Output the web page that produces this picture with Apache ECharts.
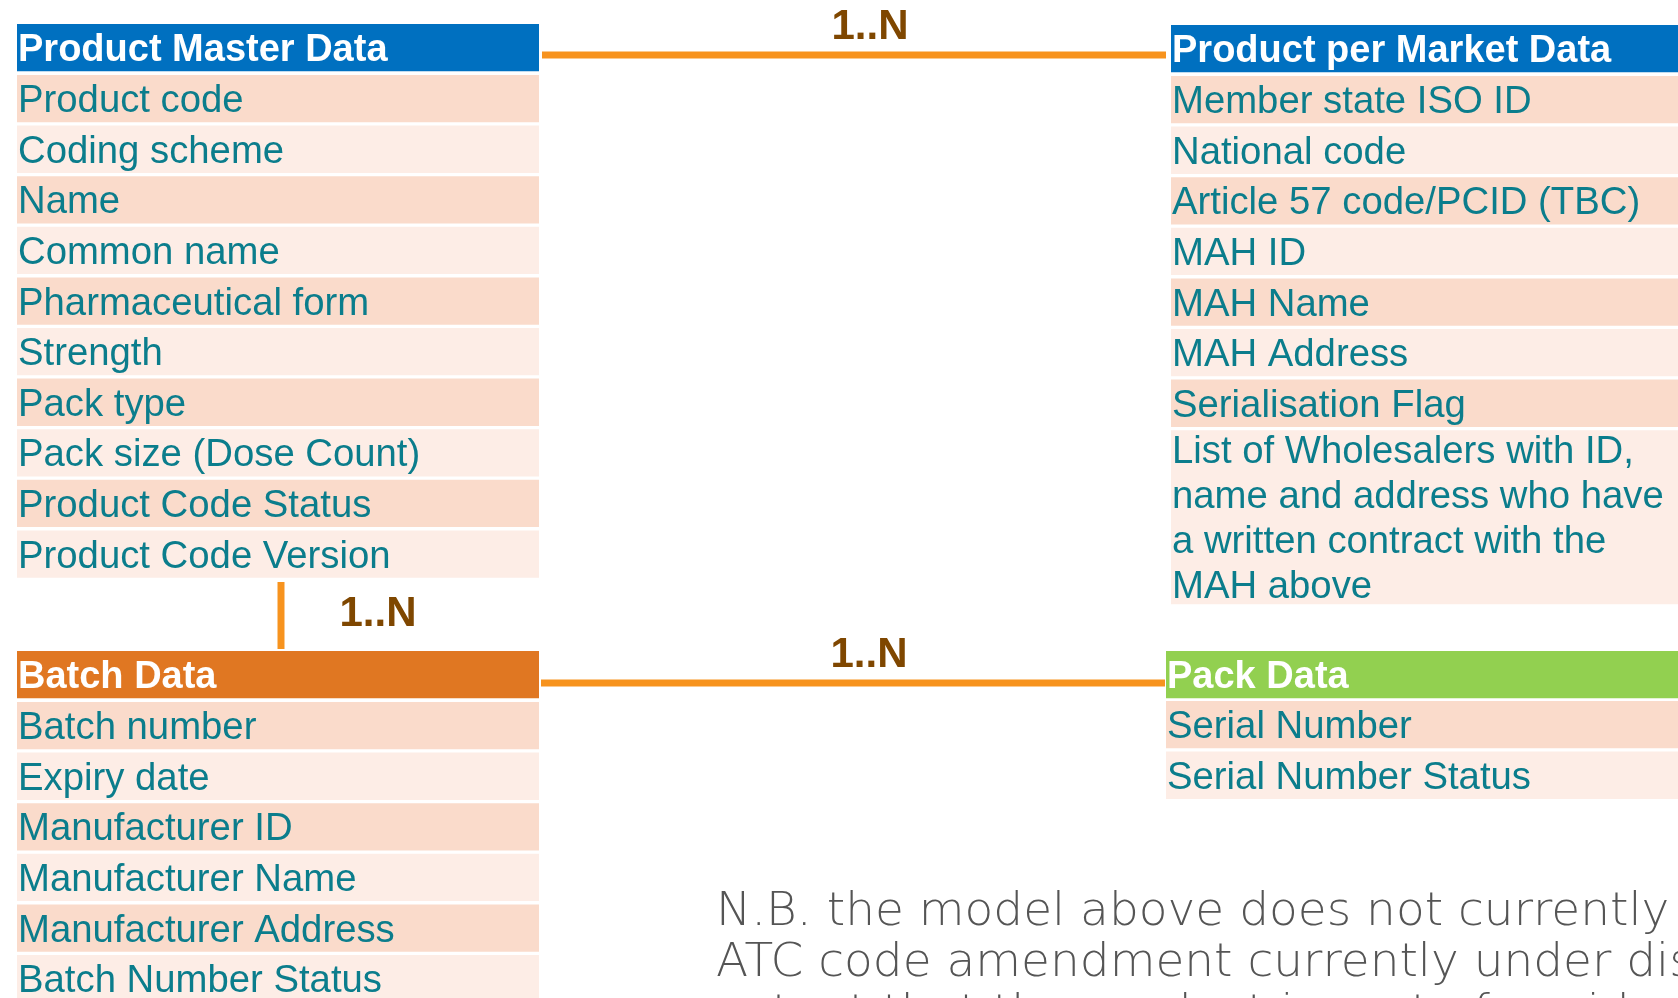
<!DOCTYPE html>
<html>
<head>
<meta charset="utf-8">
<title>Product data model</title>
<script src="https://cdn.jsdelivr.net/npm/echarts@6/dist/echarts.min.js"></script>
<style>
  html, body { margin: 0; padding: 0; background: #fff; }
  #chart { width: 1678px; height: 998px; }
</style>
</head>
<body>
<div id="chart"></div>
<script>
// table contents
var masterTitle = 'Product Master Data';
var masterFields = ['Product code', 'Coding scheme', 'Name', 'Common name', 'Pharmaceutical form',
  'Strength', 'Pack type', 'Pack size (Dose Count)', 'Product Code Status', 'Product Code Version'];

var marketTitle = 'Product per Market Data';
var marketFields = ['Member state ISO ID', 'National code', 'Article 57 code/PCID (TBC)', 'MAH ID',
  'MAH Name', 'MAH Address', 'Serialisation Flag',
  'List of Wholesalers with ID,\nname and address who have\na written contract with the\nMAH above'];

var batchTitle = 'Batch Data';
var batchFields = ['Batch number', 'Expiry date', 'Manufacturer ID', 'Manufacturer Name',
  'Manufacturer Address', 'Batch Number Status'];

var packTitle = 'Pack Data';
var packFields = ['Serial Number', 'Serial Number Status'];

// cardinality labels: master->market, master->batch, batch->pack
var relationLabels = ['1..N', '1..N', '1..N'];

var noteLines = [
  'N.B. the model above does not currently reflect the',
  'ATC code amendment currently under discussion',
  'extent that the product is part of a wider pack and SKU'
];

// layout
var ROW_PITCH = 50.6;
var ROW_H = 47.3;
var MULTI_LINE_H = 43.5;
var FONT = '"Liberation Sans", Arial, sans-serif';
var TEAL = '#0B7D8C';
var ROW_DARK = '#FADBCB';
var ROW_LIGHT = '#FDEDE6';
var LINK = '#F7931E';
var BROWN = '#7F4700';

function textEl(x, y, str, size, color, weight, lineHeight) {
  return {
    type: 'text',
    x: x,
    y: y,
    silent: true,
    style: {
      text: str,
      fill: color,
      fontSize: size,
      fontFamily: FONT,
      fontWeight: weight || 'normal',
      lineHeight: lineHeight || size,
      align: 'left',
      verticalAlign: 'middle',
      textAlign: 'left',
      textVerticalAlign: 'middle'
    }
  };
}

function table(x, y, w, title, headColor, fields, rowTop) {
  var els = [];
  els.push({ type: 'rect', shape: { x: x, y: y, width: w, height: ROW_H }, style: { fill: headColor } });
  els.push(textEl(x + 1, y + ROW_H / 2 + 3, title, 38, '#fff', 'bold'));
  var top = rowTop;
  fields.forEach(function (f, i) {
    var lines = f.split('\n').length;
    var h = lines > 1 ? lines * MULTI_LINE_H : ROW_H;
    els.push({ type: 'rect', shape: { x: x, y: top, width: w, height: h },
      style: { fill: i % 2 === 0 ? ROW_DARK : ROW_LIGHT } });
    els.push(textEl(x + 1, top + h / 2 + 3, f, 38.3, TEAL, 'normal', 45));
    top += h + (ROW_PITCH - ROW_H);
  });
  return els;
}

function link(x1, y1, x2, y2) {
  return { type: 'line', shape: { x1: x1, y1: y1, x2: x2, y2: y2 }, style: { stroke: LINK, lineWidth: 7 } };
}

function relLabel(cx, cy, str) {
  var t = textEl(cx, cy, str, 42, BROWN, 'bold');
  t.style.align = 'center';
  t.style.textAlign = 'center';
  return t;
}

var elements = [];
elements = elements.concat(table(17, 24, 522, masterTitle, '#0070C0', masterFields, 75));
elements = elements.concat(table(1171, 25, 530, marketTitle, '#0070C0', marketFields, 76));
elements = elements.concat(table(17, 651, 522, batchTitle, '#E07722', batchFields, 702));
elements = elements.concat(table(1166, 651, 530, packTitle, '#92D050', packFields, 701));

elements.push(link(542, 55, 1166, 55));
elements.push(relLabel(870, 27, relationLabels[0]));
elements.push(link(281, 582, 281, 649));
elements.push(relLabel(378, 614, relationLabels[1]));
elements.push(link(541, 683, 1165, 683));
elements.push(relLabel(869, 655, relationLabels[2]));

noteLines.forEach(function (line, i) {
  elements.push({
    type: 'text',
    x: 716,
    y: 913 + i * 51,
    silent: true,
    style: {
      text: line,
      fill: '#555555',
      fontSize: 47,
      fontFamily: '"DejaVu Sans", sans-serif',
      fontWeight: 200,
      align: 'left',
      verticalAlign: 'middle',
      textAlign: 'left',
      textVerticalAlign: 'middle'
    }
  });
});

var chart = echarts.init(document.getElementById('chart'), null, { renderer: 'canvas' });
chart.setOption({
  backgroundColor: '#fff',
  animation: false,
  graphic: { elements: elements }
});
</script>
</body>
</html>
